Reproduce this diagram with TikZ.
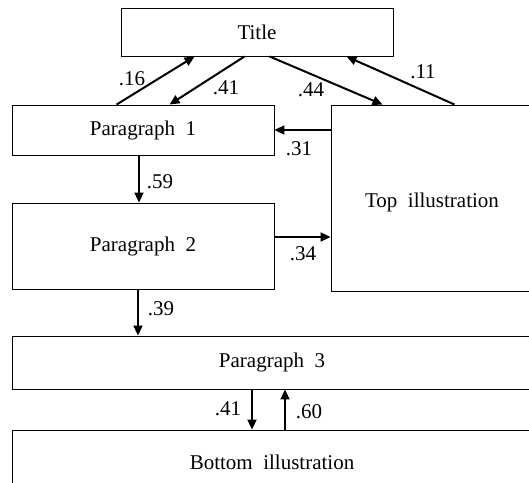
\documentclass[tikz,border=0pt]{standalone}
\usepackage{fontspec}
\setmainfont{Liberation Serif}
\usetikzlibrary{arrows.meta}
\tikzset{
  box/.style={draw, line width=0.9pt, inner sep=0pt},
  arr/.style={line width=2pt, -{Triangle[length=10pt,width=9pt]}},
  val/.style={inner sep=0pt}
}
\begin{document}
\begin{tikzpicture}[x=1pt,y=-1pt,font=\fontsize{21}{25}\selectfont]
\useasboundingbox (0,0) rectangle (529,482);
\clip (0,0) rectangle (529,482);
\node[box, minimum width=272, minimum height=48] (title) at (257,32) {Title};
\node[box, minimum width=262, minimum height=50] (p1) at (143,130) {Paragraph\ \ 1};
\node[box, minimum width=202, minimum height=186, text height=24pt] (top) at (432,198) {Top\ \ illustration};
\node[box, minimum width=262, minimum height=86] (p2) at (143,246) {Paragraph\ \ 2};
\node[box, minimum width=520, minimum height=53] (p3) at (272,362.5) {Paragraph\ \ 3};
\node[box, minimum width=520, minimum height=65] (bottom) at (272,462.5) {Bottom\ \ illustration};
\draw[arr] ([xshift=105]p1.north west) -- ([xshift=74]title.south west);
\draw[arr] ([xshift=124]title.south west) -- ([xshift=158]p1.north west);
\draw[arr] ([xshift=149]title.south west) -- ([xshift=52]top.north west);
\draw[arr] ([xshift=124]top.north west) -- ([xshift=226]title.south west);
\draw[arr] (top.west |- p1.east) -- (p1.east);
\draw[arr] ([xshift=-4]p1.south) -- ([xshift=-4]p1.south |- p2.north);
\draw[arr] ([yshift=9]p2.east) -- ([yshift=9]p2.east -| top.west);
\draw[arr] ([xshift=-5]p2.south) -- ([xshift=-5]p2.south |- p3.north);
\draw[arr] ([xshift=-20]p3.south) -- ([xshift=-20]p3.south |- bottom.north);
\draw[arr] ([xshift=13]bottom.north) -- ([xshift=13]bottom.north |- p3.south);
\node[val] (v16) at (132,79) {.16};
\node[val] (v41a) at (226,88) {.41};
\node[val] (v44) at (311,90) {.44};
\node[val] (v11) at (423,72) {.11};
\node[val] (v31) at (299,149) {.31};
\node[val] (v59) at (160,182) {.59};
\node[val] (v34) at (303,254) {.34};
\node[val] (v39) at (161,309) {.39};
\node[val] (v41b) at (228,409) {.41};
\node[val] (v60) at (309,412) {.60};
\end{tikzpicture}
\end{document}
